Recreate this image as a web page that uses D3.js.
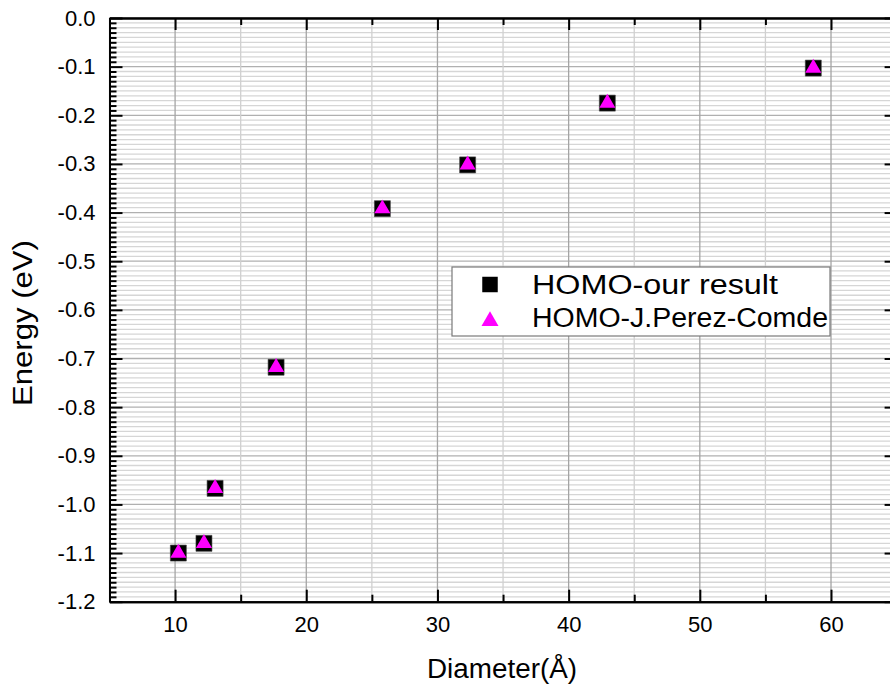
<!DOCTYPE html>
<html>
<head>
<meta charset="utf-8">
<script src="https://cdn.jsdelivr.net/npm/d3@7"></script>
<style>
  body { margin: 0; background: #fff; }
  svg { display: block; }
  text { font-family: "Liberation Sans", Arial, sans-serif; fill: #000; }
</style>
</head>
<body>
<svg id="chart" width="890" height="688"></svg>
<script>
// HOMO energy versus nanoparticle diameter
const diameter   = [10.25, 12.2, 13.05, 17.7, 25.8, 32.3, 42.95, 58.65];
const homoOurs   = [-1.100, -1.080, -0.967, -0.718, -0.392, -0.302, -0.175, -0.103];
const homoPerez  = [-1.100, -1.080, -0.967, -0.718, -0.392, -0.302, -0.175, -0.103];
const seriesNames = ["HOMO-our result", "HOMO-J.Perez-Comde"];
const xTickValues = [10, 20, 30, 40, 50, 60];
const yTickValues = [0, -0.1, -0.2, -0.3, -0.4, -0.5, -0.6, -0.7, -0.8, -0.9, -1.0, -1.1, -1.2];

const svg = d3.select("#chart");
const plot = { left: 109.5, right: 896.6, top: 18, bottom: 601.7 };

const x = d3.scaleLinear().domain([5, 65]).range([plot.left, plot.right]);
const y = d3.scaleLinear().domain([-1.2, 0]).range([plot.bottom, plot.top]);

const xMinor = d3.range(5, 66, 5).filter(v => v % 10 !== 0);
const yMinor = d3.range(0, 121).filter(i => i % 10 !== 0).map(i => -i / 100);

// background grid
const grid = svg.append("g");
grid.selectAll(".hminor").data(yMinor).join("line")
  .attr("x1", plot.left).attr("x2", plot.right)
  .attr("y1", d => y(d)).attr("y2", d => y(d))
  .attr("stroke", "#d6d6d6").attr("stroke-width", 1.3);
grid.selectAll(".hmajor").data(yTickValues).join("line")
  .attr("x1", plot.left).attr("x2", plot.right)
  .attr("y1", d => y(d)).attr("y2", d => y(d))
  .attr("stroke", "#b0b0b0").attr("stroke-width", 1.3);
grid.selectAll(".vminor").data(xMinor).join("line")
  .attr("y1", plot.top).attr("y2", plot.bottom)
  .attr("x1", d => x(d)).attr("x2", d => x(d))
  .attr("stroke", "#d0d0d0").attr("stroke-width", 1.3);
grid.selectAll(".vmajor").data(xTickValues).join("line")
  .attr("y1", plot.top).attr("y2", plot.bottom)
  .attr("x1", d => x(d)).attr("x2", d => x(d))
  .attr("stroke", "#a4a4a4").attr("stroke-width", 1.3);

// axes
const fmtY = v => v.toFixed(1);
function styleAxis(g) {
  g.select(".domain").attr("stroke", "#000").attr("stroke-width", 2);
  g.selectAll(".tick line").attr("stroke", "#000").attr("stroke-width", 2);
  g.selectAll(".tick text").attr("font-size", 22).attr("fill", "#000")
    .attr("font-family", '"Liberation Sans", Arial, sans-serif');
}

svg.append("g").attr("transform", `translate(0,${plot.bottom})`)
  .call(d3.axisBottom(x).tickValues(xMinor).tickSize(-7).tickSizeOuter(0).tickFormat(""))
  .call(styleAxis);
svg.append("g").attr("transform", `translate(0,${plot.bottom})`)
  .call(d3.axisBottom(x).tickValues(xTickValues).tickSize(-12).tickSizeOuter(0).tickPadding(14.5).tickFormat(d3.format("d")))
  .call(styleAxis);

svg.append("g").attr("transform", `translate(0,${plot.top})`)
  .call(d3.axisTop(x).tickValues(xMinor).tickSize(-7).tickSizeOuter(0).tickFormat(""))
  .call(styleAxis);
svg.append("g").attr("transform", `translate(0,${plot.top})`)
  .call(d3.axisTop(x).tickValues(xTickValues).tickSize(-12).tickSizeOuter(0).tickFormat(""))
  .call(styleAxis);

svg.append("g").attr("transform", `translate(${plot.left},0)`)
  .call(d3.axisLeft(y).tickValues(yMinor).tickSize(-7).tickSizeOuter(0).tickFormat(""))
  .call(styleAxis);
svg.append("g").attr("transform", `translate(${plot.left},0)`)
  .call(d3.axisLeft(y).tickValues(yTickValues).tickSize(-13).tickSizeOuter(0).tickPadding(14).tickFormat(fmtY))
  .call(styleAxis);

svg.append("g").attr("transform", `translate(${plot.right},0)`)
  .call(d3.axisRight(y).tickValues(yTickValues).tickSize(-12).tickSizeOuter(0).tickFormat(""))
  .call(styleAxis);

// axis titles
svg.append("text")
  .attr("x", 502).attr("y", 678)
  .attr("text-anchor", "middle").attr("font-size", 27)
  .attr("textLength", 150).attr("lengthAdjust", "spacingAndGlyphs")
  .text("Diameter(Å)");
svg.append("text")
  .attr("transform", `translate(32,${323}) rotate(-90)`)
  .attr("text-anchor", "middle").attr("font-size", 28)
  .attr("textLength", 166).attr("lengthAdjust", "spacingAndGlyphs")
  .text("Energy (eV)");

// markers
const square = d3.symbol().type(d3.symbolSquare).size(256);
const triangle = d3.symbol().type(d3.symbolTriangle).size(112);

const pts = diameter.map((d, i) => ({ d, ours: homoOurs[i], perez: homoPerez[i] }));
svg.append("g").selectAll("path").data(pts).join("path")
  .attr("d", square)
  .attr("transform", p => `translate(${x(p.d)},${y(p.ours)})`)
  .attr("fill", "#000").attr("stroke", "#444").attr("stroke-width", 0.6);
svg.append("g").selectAll("path").data(pts).join("path")
  .attr("d", triangle)
  .attr("transform", p => `translate(${x(p.d)},${y(p.perez)})`)
  .attr("fill", "#ff00ff");

// legend
const legendWidths = [246, 296];
const lg = svg.append("g");
lg.append("rect").attr("x", 452).attr("y", 267).attr("width", 378).attr("height", 69)
  .attr("fill", "#fff").attr("stroke", "#7a7a7a").attr("stroke-width", 1.2);
lg.append("path").attr("d", d3.symbol().type(d3.symbolSquare).size(240))
  .attr("transform", "translate(490,284.5)").attr("fill", "#000");
lg.append("path").attr("d", d3.symbol().type(d3.symbolTriangle).size(125))
  .attr("transform", "translate(490,321)").attr("fill", "#ff00ff");
lg.selectAll("text.lbl").data(seriesNames).join("text")
  .attr("x", 532).attr("y", (d, i) => 293.5 + i * 33.5)
  .attr("font-size", 27)
  .attr("textLength", (d, i) => legendWidths[i]).attr("lengthAdjust", "spacingAndGlyphs")
  .text(d => d);
</script>
</body>
</html>
